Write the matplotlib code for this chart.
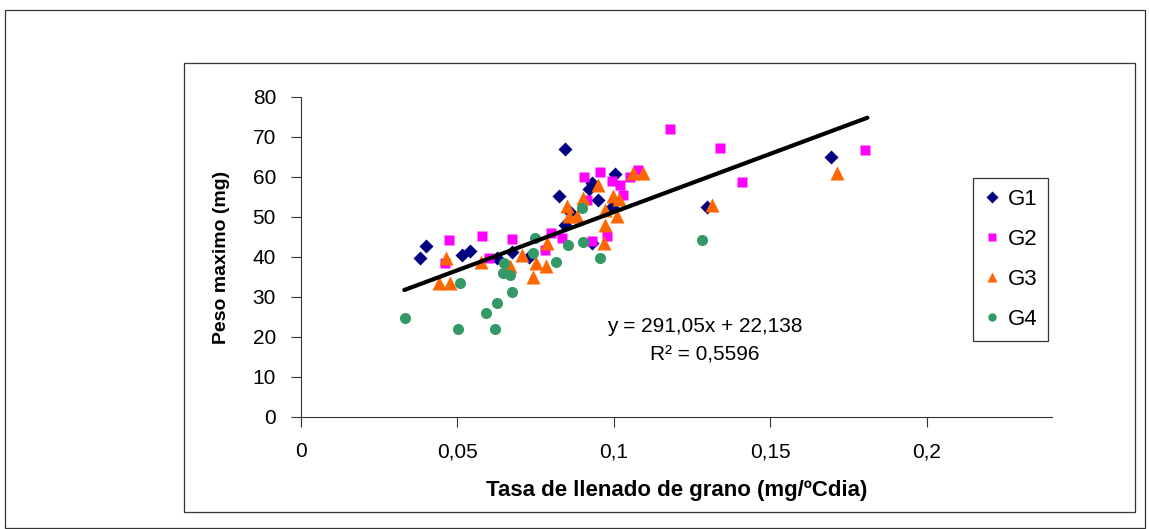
import matplotlib
matplotlib.use("Agg")
import matplotlib.pyplot as plt
import numpy as np
from matplotlib.patches import Rectangle
from matplotlib.ticker import FuncFormatter

plt.rcParams['font.family'] = ['Liberation Sans', 'DejaVu Sans']

# G1 (diamonds)
g1_x = [0.038, 0.040, 0.0513, 0.054, 0.0625, 0.0673, 0.073, 0.0843, 0.0929, 0.0843,
        0.0825, 0.1003, 0.0921, 0.095, 0.0993, 0.0859, 0.0929, 0.1296, 0.1693]
g1_y = [39.8, 42.75, 40.5, 41.6, 39.8, 41.3, 40.0, 48.0, 43.4, 66.9,
        55.3, 60.75, 56.9, 54.25, 52.6, 51.3, 58.4, 52.4, 65.1]

# G2 (squares)
g2_x = [0.0474, 0.0577, 0.0675, 0.046, 0.060, 0.078, 0.0798, 0.0833, 0.0929, 0.0977,
        0.0904, 0.0957, 0.0993, 0.1019, 0.103, 0.1051, 0.1078, 0.0915, 0.1179, 0.1339,
        0.1408, 0.1802]
g2_y = [44.25, 45.2, 44.4, 38.6, 39.7, 41.75, 46.1, 44.7, 44.1, 45.25,
        59.9, 61.3, 58.9, 58.0, 55.5, 60.1, 61.75, 54.25, 71.9, 67.2,
        58.8, 66.75]

# G3 (triangles)
g3_x = [0.0463, 0.0442, 0.0476, 0.0574, 0.0668, 0.0705, 0.0742, 0.075, 0.0783, 0.0787,
        0.0968, 0.0971, 0.1062, 0.1094, 0.095, 0.090, 0.0996, 0.1017, 0.0851, 0.0857,
        0.0881, 0.0971, 0.1011, 0.1315, 0.1714]
g3_y = [39.7, 33.6, 33.6, 38.8, 37.75, 40.5, 35.1, 38.6, 37.75, 43.4,
        43.6, 48.0, 60.9, 60.9, 58.0, 54.7, 55.25, 54.4, 52.75, 50.25,
        50.25, 51.75, 50.25, 53.0, 61.1]

# G4 (circles)
g4_x = [0.0332, 0.0508, 0.0503, 0.062, 0.0591, 0.0625, 0.0675, 0.0646, 0.0668, 0.0649,
        0.0742, 0.0748, 0.0854, 0.0902, 0.0957, 0.0814, 0.0897, 0.1283]
g4_y = [24.7, 33.6, 21.9, 21.9, 26.1, 28.4, 31.3, 36.1, 35.5, 38.6,
        41.1, 44.7, 43.0, 43.8, 39.7, 38.7, 52.2, 44.25]

# trend line
slope, intercept = 291.05, 22.138
trend_x = [0.033, 0.181]

fig = plt.figure(figsize=(11.49, 5.29), dpi=100)

# chart and plot area borders
fig.patches.append(Rectangle((5 / 1149, 1 / 529), 1140 / 1149, 518 / 529, transform=fig.transFigure,
                             fill=False, edgecolor='#333333', lw=0.9))
fig.patches.append(Rectangle((184 / 1149, 17 / 529), 951 / 1149, 449 / 529, transform=fig.transFigure,
                             fill=False, edgecolor='#333333', lw=0.9))

ax = fig.add_axes([301 / 1149, 1 - 417 / 529, 751 / 1149, 320 / 529])

ax.plot(g1_x, g1_y, 'D', color='#000080', ms=7.5, mec='none', label='G1')
ax.plot(g2_x, g2_y, 's', color='#FF00FF', ms=7.5, mec='none', label='G2')
ax.plot(g3_x, g3_y, '^', color='#FF6600', ms=10, mec='none', label='G3')
ax.plot(g4_x, g4_y, 'o', color='#339966', ms=8, mec='none', label='G4')

tx = np.array(trend_x)
ax.plot(tx, slope * tx + intercept, color='black', lw=3, solid_capstyle='round')

ax.set_xlim(0, 0.24)
ax.set_ylim(0, 80)
ax.set_xticks([0, 0.05, 0.1, 0.15, 0.2])
ax.set_yticks(range(0, 81, 10))
ax.xaxis.set_major_formatter(FuncFormatter(lambda v, p: ('%g' % round(v, 3)).replace('.', ',')))
ax.tick_params(labelsize=15, length=7, width=0.8, color='#333333', pad=11)
for s in ['top', 'right']:
    ax.spines[s].set_visible(False)
for s in ['left', 'bottom']:
    ax.spines[s].set_color('#333333')
    ax.spines[s].set_linewidth(0.8)

ax.set_xlabel('Tasa de llenado de grano (mg/ºCdia)', fontsize=16, fontweight='bold', labelpad=14)
ax.set_ylabel('Peso maximo (mg)', fontsize=14, fontweight='bold', labelpad=16)

ax.text(0.129, 22.5, 'y = 291,05x + 22,138', fontsize=15, ha='center', va='center')
ax.text(0.129, 15.5, 'R² = 0,5596', fontsize=15, ha='center', va='center')

leg = ax.legend(loc='upper left', bbox_to_anchor=(973 / 1149, 1 - 178 / 529),
                bbox_transform=fig.transFigure, fontsize=16, frameon=True, fancybox=False,
                edgecolor='black', labelspacing=0.85, handlelength=0.7, handletextpad=0.35,
                borderpad=0.5, borderaxespad=0, markerscale=0.75)
leg.get_frame().set_linewidth(0.9)

fig.savefig('out.png', dpi=100)
